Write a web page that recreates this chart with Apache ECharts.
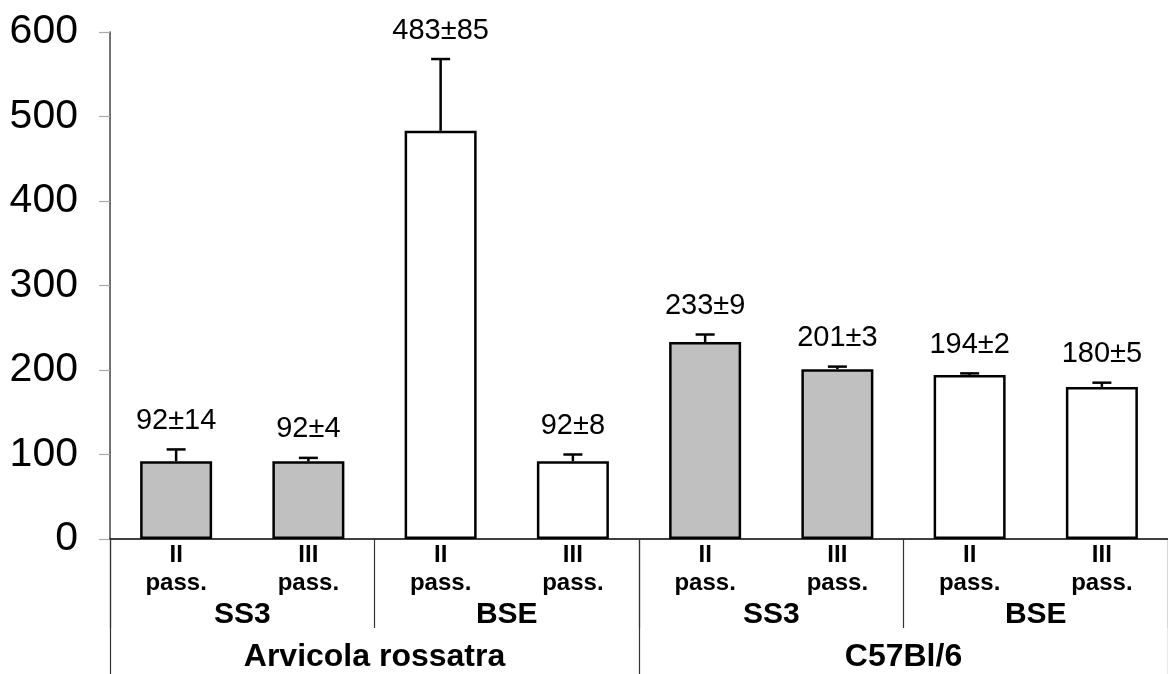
<!DOCTYPE html>
<html>
<head>
<meta charset="utf-8">
<script src="https://cdn.jsdelivr.net/npm/echarts@6/dist/echarts.min.js"></script>
<style>
html,body{margin:0;padding:0;background:#fff;}
#chart{width:1168px;height:674px;}
</style>
</head>
<body>
<div id="chart"></div>
<script>
// ---- data ----
const passLabels = ['II\npass.', 'III\npass.', 'II\npass.', 'III\npass.', 'II\npass.', 'III\npass.', 'II\npass.', 'III\npass.'];
const strainOfBar = ['SS3', 'SS3', 'BSE', 'BSE', 'SS3', 'SS3', 'BSE', 'BSE'];
const strainGroups = ['SS3', 'BSE', 'SS3', 'BSE'];
const species = ['Arvicola rossatra', 'C57Bl/6'];
const means = [92, 92, 483, 92, 233, 201, 194, 180];
const errors = [14, 4, 85, 8, 9, 3, 2, 5];
const yTicks = [0, 100, 200, 300, 400, 500, 600];

const FONT = "'Liberation Sans', Arial, Helvetica, sans-serif";
const strainColor = { SS3: '#c0c0c0', BSE: '#ffffff' };

const chart = echarts.init(document.getElementById('chart'));

const option = {
  backgroundColor: '#ffffff',
  animation: false,
  grid: { left: 110, top: 32, width: 1064, height: 507, containLabel: false },
  xAxis: [
    {
      type: 'category', data: passLabels, position: 'bottom',
      axisLine: { show: true, lineStyle: { color: '#000', width: 1.5 } },
      axisTick: { show: false },
      axisLabel: { margin: 2, fontSize: 24, fontWeight: 'bold', lineHeight: 28, color: '#000', fontFamily: FONT, interval: 0 }
    },
    {
      type: 'category', data: strainGroups, position: 'bottom',
      axisLine: { show: false },
      axisTick: { show: true, length: 89, lineStyle: { color: '#333', width: 1.2 } },
      axisLabel: { margin: 61, fontSize: 30, fontWeight: 'bold', lineHeight: 30, color: '#000', fontFamily: FONT, interval: 0 }
    },
    {
      type: 'category', data: species, position: 'bottom',
      axisLine: { show: false },
      axisTick: { show: true, length: 135, lineStyle: { color: '#333', width: 1.2 } },
      axisLabel: { margin: 102, fontSize: 32, fontWeight: 'bold', lineHeight: 32, color: '#000', fontFamily: FONT, interval: 0 }
    }
  ],
  yAxis: {
    type: 'value', min: yTicks[0], max: yTicks[yTicks.length - 1], interval: 100,
    axisLine: { show: true, lineStyle: { color: '#444', width: 1.5 } },
    axisTick: { show: true, length: 11, lineStyle: { color: '#aaa', width: 1.2 } },
    splitLine: { show: false },
    axisLabel: { margin: 32, fontSize: 41, color: '#000', fontFamily: FONT }
  },
  series: [
    {
      type: 'bar', xAxisIndex: 0, yAxisIndex: 0, barWidth: 72, z: 2,
      data: means.map((v, i) => ({
        value: v,
        itemStyle: { color: strainColor[strainOfBar[i]], borderColor: '#000', borderWidth: 2.5 }
      }))
    },
    {
      type: 'custom', xAxisIndex: 0, yAxisIndex: 0, z: 3,
      data: means.map((v, i) => [i, v, errors[i]]),
      renderItem: function (params, api) {
        const x = api.value(0), v = api.value(1), e = api.value(2);
        const p0 = api.coord([x, v]);
        const p1 = api.coord([x, v + e]);
        const half = 9.5;
        return {
          type: 'group',
          children: [
            { type: 'line', shape: { x1: p0[0], y1: p0[1], x2: p1[0], y2: p1[1] }, style: { stroke: '#000', lineWidth: 2.5 } },
            { type: 'line', shape: { x1: p1[0] - half, y1: p1[1], x2: p1[0] + half, y2: p1[1] }, style: { stroke: '#000', lineWidth: 2.5 } },
            { type: 'text', x: p1[0], y: p1[1] - 14,
              style: { text: v + '±' + e, fontSize: 29, fontFamily: FONT, fill: '#000', align: 'center', verticalAlign: 'bottom' } }
          ]
        };
      }
    }
  ]
};
chart.setOption(option);
</script>
</body>
</html>
